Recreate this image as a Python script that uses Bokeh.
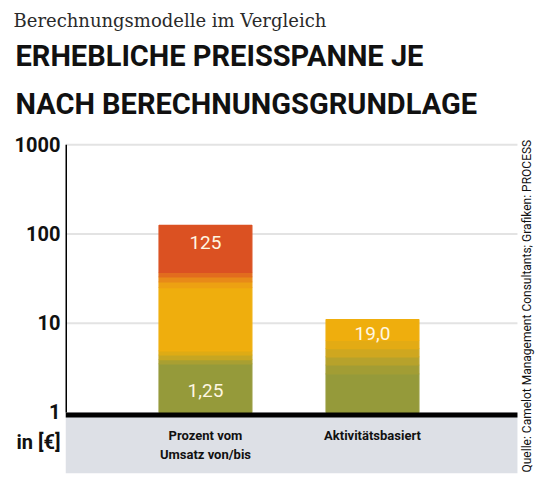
from bokeh.plotting import figure
from bokeh.models import Range1d, FixedTicker, BoxAnnotation, Title
from bokeh.core.properties import value
from bokeh.embed import file_html
from bokeh.resources import INLINE
import math

# ---- data ----
categories = ["Prozent vom\nUmsatz von/bis", "Aktivitätsbasiert"]
bar_bottom = [1, 1]
bar_top = [125, 11]
top_labels = ["125", "19,0"]
bottom_labels = ["1,25", ""]
y_ticks = [0.461, 1, 10, 100, 1000]
y_tick_labels = ["in [€]", "1", "10", "100", "1000"]
grid_ticks = [10, 100, 1000]
source_text = "Quelle: Camelot Management Consultants; Grafiken: PROCESS"

# colour bands within each bar (bottom, top, colour)
bands_bar1 = [
    (1, 3.5, "#959a3a"), (3.5, 3.9, "#a99f31"), (3.9, 4.4, "#c6a622"),
    (4.4, 4.9, "#deab15"), (4.9, 25, "#efae0d"), (25, 29, "#eda112"),
    (29, 33, "#e88a18"), (33, 37, "#e26c1e"), (37, 125, "#db5122"),
]
bands_bar2 = [
    (1, 2.7, "#959a3a"), (2.7, 3.4, "#a29d34"), (3.4, 4.2, "#b7a22b"),
    (4.2, 5.2, "#cfa71f"), (5.2, 6.4, "#e3ab14"), (6.4, 11, "#efae0d"),
]

SANS = "Roboto"
X0, X1 = -0.338, 2.482      # x range of the frame
PLOT_RIGHT = 2.368          # right end of grid / band
SRC_X = 2.428               # position of the source note
Y0, Y1 = 0.2065, 1523

W, H = 536, 478
p = figure(width=W, height=H, output_backend="svg", toolbar_location=None,
           y_axis_type="log", x_range=Range1d(X0, X1),
           y_range=Range1d(Y0, Y1), x_axis_location=None,
           min_border_left=65, min_border_right=0, min_border_top=128,
           min_border_bottom=5)
p.outline_line_color = None
p.background_fill_color = "white"
p.border_fill_color = "white"
p.grid.visible = False

ax = p.yaxis[0]
ax.ticker = FixedTicker(ticks=y_ticks)
ax.major_label_overrides = {t: l for t, l in zip(y_ticks, y_tick_labels)}
ax.axis_line_color = None
ax.major_tick_line_color = None
ax.minor_tick_line_color = None
ax.major_tick_out = 0
ax.major_label_text_font = SANS
ax.major_label_text_font_size = "20px"
ax.major_label_text_font_style = "bold"
ax.major_label_text_color = "#111111"
ax.major_label_standoff = 5

# grid lines
p.segment(x0=[X0] * len(grid_ticks), x1=[PLOT_RIGHT] * len(grid_ticks),
          y0=grid_ticks, y1=grid_ticks, line_color="#e3e3e3", line_width=2,
          level="underlay")

# axis line from 1 to 1000
p.add_layout(BoxAnnotation(left=-1.5, right=1.5, left_units="screen", right_units="screen",
                           bottom=1, top=1000, fill_color="black", fill_alpha=1,
                           line_color=None))

# grey category band and black baseline
p.add_layout(BoxAnnotation(top=1, right=PLOT_RIGHT, fill_color="#dde0e6", fill_alpha=1,
                           line_color=None, level="underlay"))
p.add_layout(BoxAnnotation(top=1, bottom=10 ** (-5 / 89.2), right=PLOT_RIGHT,
                           fill_color="black", fill_alpha=1, line_color=None))

xs = [i + 0.5 for i in range(len(categories))]
bw = 0.556
for xi, bands in zip(xs, [bands_bar1, bands_bar2]):
    cols = [b[2] for b in bands]
    p.quad(left=[xi - bw / 2] * len(bands), right=[xi + bw / 2] * len(bands),
           bottom=[b[0] for b in bands], top=[b[1] for b in bands],
           fill_color=cols, line_color=cols, line_width=1.2)

p.text(x=xs, y=bar_top, text=top_labels, text_align="center",
       text_baseline="middle", y_offset=[17, 14], text_color="#fff7e2",
       text_font=value(SANS), text_font_size="19px")
p.text(x=xs, y=bar_bottom, text=bottom_labels, text_align="center",
       text_baseline="middle", y_offset=-22, text_color="#fff7e2",
       text_font=value(SANS), text_font_size="19px")

p.text(x=xs, y=[1, 1], text=categories, text_align="center",
       text_baseline="top", y_offset=16, text_color="#111111",
       text_font=value(SANS), text_font_size="13px", text_font_style="bold",
       text_line_height=1.25)

# source note, rotated, at the right edge
p.text(x=[SRC_X], y=[Y0], text=[source_text], angle=math.pi / 2,
       text_align="left", text_baseline="middle", y_offset=-1,
       text_color="#111111", text_font=value(SANS), text_font_size="12px")

# titles (later additions sit farther from the plot)
p.add_layout(Title(text="NACH BERECHNUNGSGRUNDLAGE", text_font=SANS,
                   text_font_size="29px", text_font_style="bold", text_color="#111111",
                   offset=-50, standoff=15), "above")
p.add_layout(Title(text="ERHEBLICHE PREISSPANNE JE", text_font=SANS,
                   text_font_size="29px", text_font_style="bold", text_color="#111111",
                   offset=-50, standoff=10), "above")
p.add_layout(Title(text="Berechnungsmodelle im Vergleich", text_font="DejaVu Serif",
                   text_font_size="18px", text_font_style="normal", text_color="#2a2a2a",
                   offset=-52, standoff=1), "above")

open("out.html", "w").write(file_html(p, INLINE))
